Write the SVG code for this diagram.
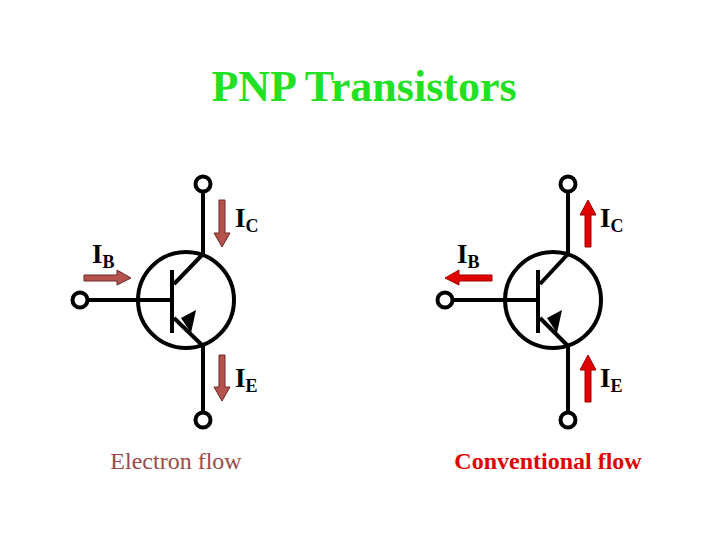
<svg xmlns="http://www.w3.org/2000/svg" width="720" height="540" viewBox="0 0 720 540">
<style>
.w{fill:none;stroke:#000;stroke-width:4}
.t{fill:#fff;stroke:#000;stroke-width:4}
.l{font-family:"Liberation Serif",serif;font-weight:bold;font-size:27px}
.s{font-size:18px}
.ea{fill:#b5524c;stroke:#6a2a28;stroke-width:1}
.ca{fill:#e00000;stroke:#a00000;stroke-width:1}
</style>
<rect width="720" height="540" fill="#fff"/>
<text x="364" y="101" text-anchor="middle" font-family="Liberation Serif,serif" font-weight="bold" font-size="44" fill="#22e022">PNP Transistors</text>
<g id="left">
<circle class="w" cx="186" cy="300" r="48"/>
<line class="w" x1="88" y1="300" x2="172" y2="300"/>
<line class="w" x1="172" y1="270" x2="172" y2="333"/>
<line class="w" x1="174" y1="284" x2="203" y2="254"/>
<line class="w" x1="203" y1="192" x2="203" y2="254"/>
<line class="w" x1="174" y1="318" x2="203" y2="346"/>
<line class="w" x1="203" y1="346" x2="203" y2="412"/>
<polygon points="181,318 196,310 191,333" fill="#000"/>
<circle class="t" cx="203" cy="184" r="7.5"/>
<circle class="t" cx="80" cy="300" r="7.5"/>
<circle class="t" cx="203" cy="420" r="7.5"/>
<polygon class="ea" points="219,200 225,200 225,233 230,233 222,247 214,233 219,233"/>
<polygon class="ea" points="219,355 225,355 225,387 230,387 222,401 214,387 219,387"/>
<polygon class="ea" points="84,275 117,275 117,270 131,278 117,285 117,281 84,281"/>
<text class="l" x="235" y="227">I<tspan class="s" dy="5">C</tspan></text>
<text class="l" x="92" y="263">I<tspan class="s" dy="5">B</tspan></text>
<text class="l" x="235" y="387">I<tspan class="s" dy="5">E</tspan></text>
<text x="176" y="469" text-anchor="middle" font-family="Liberation Serif,serif" font-size="24" fill="#9a4a48">Electron flow</text>
</g>
<g id="right">
<circle class="w" cx="553" cy="300" r="48"/>
<line class="w" x1="450" y1="300" x2="538" y2="300"/>
<line class="w" x1="538" y1="270" x2="538" y2="333"/>
<line class="w" x1="540" y1="284" x2="568" y2="254"/>
<line class="w" x1="568" y1="192" x2="568" y2="254"/>
<line class="w" x1="540" y1="318" x2="568" y2="346"/>
<line class="w" x1="568" y1="346" x2="568" y2="412"/>
<polygon points="547,318 562,310 557,333" fill="#000"/>
<circle class="t" cx="568" cy="184" r="7.5"/>
<circle class="t" cx="445" cy="300" r="7.5"/>
<circle class="t" cx="568" cy="420" r="7.5"/>
<polygon class="ca" points="585,247 591,247 591,215 596,215 588,200 580,215 585,215"/>
<polygon class="ca" points="585,402 591,402 591,370 596,370 588,355 580,370 585,370"/>
<polygon class="ca" points="492,275 459,275 459,270 445,278 459,285 459,281 492,281"/>
<text class="l" x="600" y="227">I<tspan class="s" dy="5">C</tspan></text>
<text class="l" x="457" y="263">I<tspan class="s" dy="5">B</tspan></text>
<text class="l" x="600" y="387">I<tspan class="s" dy="5">E</tspan></text>
<text x="548" y="469" text-anchor="middle" font-family="Liberation Serif,serif" font-weight="bold" font-size="24" fill="#e00000">Conventional flow</text>
</g>
</svg>
